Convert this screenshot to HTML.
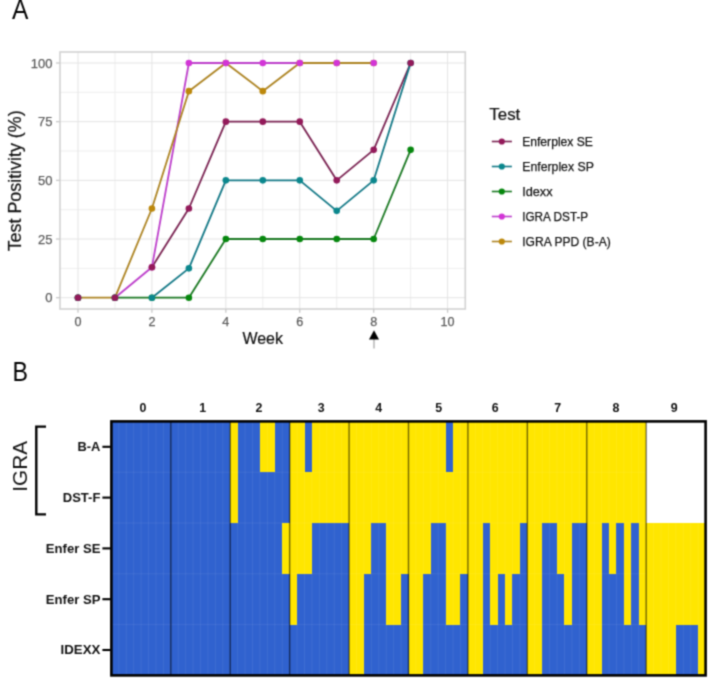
<!DOCTYPE html>
<html><head><meta charset="utf-8"><style>
html,body{margin:0;padding:0;background:#fff;}
svg{display:block;font-family:"Liberation Sans", sans-serif;will-change:transform;}
</style></head><body>
<svg width="708" height="678" viewBox="0 0 708 678">
<defs><filter id="soft" x="0" y="0" width="708" height="678" filterUnits="userSpaceOnUse" color-interpolation-filters="sRGB"><feConvolveMatrix order="3" kernelMatrix="0.04 0.12 0.04 0.12 0.36 0.12 0.04 0.12 0.04" divisor="1" edgeMode="duplicate" preserveAlpha="true"/></filter></defs>
<g filter="url(#soft)">
<rect width="708" height="678" fill="#fff"/>
<g stroke-width="1" fill="none">
<line x1="60.0" x2="465.3" y1="268.36" y2="268.36" stroke="#eeeeee"/>
<line x1="60.0" x2="465.3" y1="209.69" y2="209.69" stroke="#eeeeee"/>
<line x1="60.0" x2="465.3" y1="151.01" y2="151.01" stroke="#eeeeee"/>
<line x1="60.0" x2="465.3" y1="92.34" y2="92.34" stroke="#eeeeee"/>
<line y1="52" y2="309" x1="114.96" x2="114.96" stroke="#eeeeee"/>
<line y1="52" y2="309" x1="188.88" x2="188.88" stroke="#eeeeee"/>
<line y1="52" y2="309" x1="262.80" x2="262.80" stroke="#eeeeee"/>
<line y1="52" y2="309" x1="336.72" x2="336.72" stroke="#eeeeee"/>
<line y1="52" y2="309" x1="410.64" x2="410.64" stroke="#eeeeee"/>
<line x1="60.0" x2="465.3" y1="297.70" y2="297.70" stroke="#e4e4e4"/>
<line x1="60.0" x2="465.3" y1="239.02" y2="239.02" stroke="#e4e4e4"/>
<line x1="60.0" x2="465.3" y1="180.35" y2="180.35" stroke="#e4e4e4"/>
<line x1="60.0" x2="465.3" y1="121.67" y2="121.67" stroke="#e4e4e4"/>
<line x1="60.0" x2="465.3" y1="63.00" y2="63.00" stroke="#e4e4e4"/>
<line y1="52" y2="309" x1="78.00" x2="78.00" stroke="#e4e4e4"/>
<line y1="52" y2="309" x1="151.92" x2="151.92" stroke="#e4e4e4"/>
<line y1="52" y2="309" x1="225.84" x2="225.84" stroke="#e4e4e4"/>
<line y1="52" y2="309" x1="299.76" x2="299.76" stroke="#e4e4e4"/>
<line y1="52" y2="309" x1="373.68" x2="373.68" stroke="#e4e4e4"/>
<line y1="52" y2="309" x1="447.60" x2="447.60" stroke="#e4e4e4"/>
</g>
<rect x="60.0" y="52" width="405.30" height="257.00" fill="none" stroke="#d2d2d2" stroke-width="1.6"/>
<line x1="56" x2="60.0" y1="297.70" y2="297.70" stroke="#c9c9c9" stroke-width="1.3"/>
<line x1="56" x2="60.0" y1="239.02" y2="239.02" stroke="#c9c9c9" stroke-width="1.3"/>
<line x1="56" x2="60.0" y1="180.35" y2="180.35" stroke="#c9c9c9" stroke-width="1.3"/>
<line x1="56" x2="60.0" y1="121.67" y2="121.67" stroke="#c9c9c9" stroke-width="1.3"/>
<line x1="56" x2="60.0" y1="63.00" y2="63.00" stroke="#c9c9c9" stroke-width="1.3"/>
<line y1="309" y2="312.8" x1="78.00" x2="78.00" stroke="#c9c9c9" stroke-width="1.3"/>
<line y1="309" y2="312.8" x1="151.92" x2="151.92" stroke="#c9c9c9" stroke-width="1.3"/>
<line y1="309" y2="312.8" x1="225.84" x2="225.84" stroke="#c9c9c9" stroke-width="1.3"/>
<line y1="309" y2="312.8" x1="299.76" x2="299.76" stroke="#c9c9c9" stroke-width="1.3"/>
<line y1="309" y2="312.8" x1="373.68" x2="373.68" stroke="#c9c9c9" stroke-width="1.3"/>
<line y1="309" y2="312.8" x1="447.60" x2="447.60" stroke="#c9c9c9" stroke-width="1.3"/>
<polyline points="151.92,267.19 188.88,208.51 225.84,121.67 262.80,121.67 299.76,121.67 336.72,180.35 373.68,149.84 410.64,63.00" fill="none" stroke="#7a2352" stroke-width="1.8" stroke-linejoin="round" stroke-linecap="round"/>
<polyline points="151.92,297.70 188.88,268.36 225.84,180.35 262.80,180.35 299.76,180.35 336.72,210.86 373.68,180.35 410.64,63.00" fill="none" stroke="#137886" stroke-width="1.8" stroke-linejoin="round" stroke-linecap="round"/>
<polyline points="114.96,297.70 151.92,297.70 188.88,297.70 225.84,239.02 262.80,239.02 299.76,239.02 336.72,239.02 373.68,239.02 410.64,149.84" fill="none" stroke="#1a7822" stroke-width="1.8" stroke-linejoin="round" stroke-linecap="round"/>
<polyline points="114.96,297.70 151.92,267.19 188.88,63.00 225.84,63.00 262.80,63.00 299.76,63.00" fill="none" stroke="#bd3fcb" stroke-width="1.8" stroke-linejoin="round" stroke-linecap="round"/>
<polyline points="78.00,297.70 114.96,297.70 151.92,208.51 188.88,91.16 225.84,63.00 262.80,91.16 299.76,63.00 336.72,63.00 373.68,63.00" fill="none" stroke="#ad8423" stroke-width="1.8" stroke-linejoin="round" stroke-linecap="round"/>
<circle cx="78.00" cy="297.70" r="3.3" fill="#bc880c"/>
<circle cx="114.96" cy="297.70" r="3.3" fill="#bc880c"/>
<circle cx="151.92" cy="208.51" r="3.3" fill="#bc880c"/>
<circle cx="188.88" cy="91.16" r="3.3" fill="#bc880c"/>
<circle cx="225.84" cy="63.00" r="3.3" fill="#bc880c"/>
<circle cx="262.80" cy="91.16" r="3.3" fill="#bc880c"/>
<circle cx="299.76" cy="63.00" r="3.3" fill="#bc880c"/>
<circle cx="336.72" cy="63.00" r="3.3" fill="#bc880c"/>
<circle cx="373.68" cy="63.00" r="3.3" fill="#bc880c"/>
<circle cx="78.00" cy="297.70" r="3.3" fill="#d235d6"/>
<circle cx="114.96" cy="297.70" r="3.3" fill="#d235d6"/>
<circle cx="151.92" cy="267.19" r="3.3" fill="#d235d6"/>
<circle cx="188.88" cy="63.00" r="3.3" fill="#d235d6"/>
<circle cx="225.84" cy="63.00" r="3.3" fill="#d235d6"/>
<circle cx="262.80" cy="63.00" r="3.3" fill="#d235d6"/>
<circle cx="299.76" cy="63.00" r="3.3" fill="#d235d6"/>
<circle cx="336.72" cy="63.00" r="3.3" fill="#d235d6"/>
<circle cx="373.68" cy="63.00" r="3.3" fill="#d235d6"/>
<circle cx="78.00" cy="297.70" r="3.3" fill="#06870e"/>
<circle cx="114.96" cy="297.70" r="3.3" fill="#06870e"/>
<circle cx="151.92" cy="297.70" r="3.3" fill="#06870e"/>
<circle cx="188.88" cy="297.70" r="3.3" fill="#06870e"/>
<circle cx="225.84" cy="239.02" r="3.3" fill="#06870e"/>
<circle cx="262.80" cy="239.02" r="3.3" fill="#06870e"/>
<circle cx="299.76" cy="239.02" r="3.3" fill="#06870e"/>
<circle cx="336.72" cy="239.02" r="3.3" fill="#06870e"/>
<circle cx="373.68" cy="239.02" r="3.3" fill="#06870e"/>
<circle cx="410.64" cy="149.84" r="3.3" fill="#06870e"/>
<circle cx="78.00" cy="297.70" r="3.3" fill="#0b878d"/>
<circle cx="114.96" cy="297.70" r="3.3" fill="#0b878d"/>
<circle cx="151.92" cy="297.70" r="3.3" fill="#0b878d"/>
<circle cx="188.88" cy="268.36" r="3.3" fill="#0b878d"/>
<circle cx="225.84" cy="180.35" r="3.3" fill="#0b878d"/>
<circle cx="262.80" cy="180.35" r="3.3" fill="#0b878d"/>
<circle cx="299.76" cy="180.35" r="3.3" fill="#0b878d"/>
<circle cx="336.72" cy="210.86" r="3.3" fill="#0b878d"/>
<circle cx="373.68" cy="180.35" r="3.3" fill="#0b878d"/>
<circle cx="410.64" cy="63.00" r="3.3" fill="#0b878d"/>
<circle cx="78.00" cy="297.70" r="3.3" fill="#931a5a"/>
<circle cx="114.96" cy="297.70" r="3.3" fill="#931a5a"/>
<circle cx="151.92" cy="267.19" r="3.3" fill="#931a5a"/>
<circle cx="188.88" cy="208.51" r="3.3" fill="#931a5a"/>
<circle cx="225.84" cy="121.67" r="3.3" fill="#931a5a"/>
<circle cx="262.80" cy="121.67" r="3.3" fill="#931a5a"/>
<circle cx="299.76" cy="121.67" r="3.3" fill="#931a5a"/>
<circle cx="336.72" cy="180.35" r="3.3" fill="#931a5a"/>
<circle cx="373.68" cy="149.84" r="3.3" fill="#931a5a"/>
<circle cx="410.64" cy="63.00" r="3.3" fill="#931a5a"/>
<text x="52.4" y="302.40" text-anchor="end" font-size="13" fill="#5c5c5c" stroke="#5c5c5c" stroke-width="0.25">0</text>
<text x="52.4" y="243.72" text-anchor="end" font-size="13" fill="#5c5c5c" stroke="#5c5c5c" stroke-width="0.25">25</text>
<text x="52.4" y="185.05" text-anchor="end" font-size="13" fill="#5c5c5c" stroke="#5c5c5c" stroke-width="0.25">50</text>
<text x="52.4" y="126.37" text-anchor="end" font-size="13" fill="#5c5c5c" stroke="#5c5c5c" stroke-width="0.25">75</text>
<text x="52.4" y="67.70" text-anchor="end" font-size="13" fill="#5c5c5c" stroke="#5c5c5c" stroke-width="0.25">100</text>
<text x="78.00" y="326" text-anchor="middle" font-size="12.6" fill="#5c5c5c" stroke="#5c5c5c" stroke-width="0.25">0</text>
<text x="151.92" y="326" text-anchor="middle" font-size="12.6" fill="#5c5c5c" stroke="#5c5c5c" stroke-width="0.25">2</text>
<text x="225.84" y="326" text-anchor="middle" font-size="12.6" fill="#5c5c5c" stroke="#5c5c5c" stroke-width="0.25">4</text>
<text x="299.76" y="326" text-anchor="middle" font-size="12.6" fill="#5c5c5c" stroke="#5c5c5c" stroke-width="0.25">6</text>
<text x="373.68" y="326" text-anchor="middle" font-size="12.6" fill="#5c5c5c" stroke="#5c5c5c" stroke-width="0.25">8</text>
<text x="447.60" y="326" text-anchor="middle" font-size="12.6" fill="#5c5c5c" stroke="#5c5c5c" stroke-width="0.25">10</text>
<text x="262.7" y="344.1" text-anchor="middle" font-size="16" fill="#111" stroke="#111" stroke-width="0.2">Week</text>
<text transform="translate(20.8,180.85) rotate(-90)" text-anchor="middle" font-size="17.7" textLength="141" lengthAdjust="spacingAndGlyphs" fill="#111" stroke="#111" stroke-width="0.2">Test Positivity (%)</text>
<line x1="374" x2="374" y1="339" y2="348.5" stroke="#b0b0b0" stroke-width="1.4"/>
<polygon points="374,330.2 369,339.5 379,339.5" fill="#000"/>
<text x="489.3" y="119.6" font-size="15.8" textLength="31" lengthAdjust="spacingAndGlyphs" fill="#111" stroke="#111" stroke-width="0.2">Test</text>
<line x1="491.8" x2="511.9" y1="141.50" y2="141.50" stroke="#7a2352" stroke-width="1.6"/>
<circle cx="501.8" cy="141.50" r="3.1" fill="#931a5a"/>
<text x="522.2" y="145.50" font-size="13.2" textLength="70.7" lengthAdjust="spacingAndGlyphs" fill="#111" stroke="#111" stroke-width="0.25">Enferplex SE</text>
<line x1="491.8" x2="511.9" y1="166.50" y2="166.50" stroke="#137886" stroke-width="1.6"/>
<circle cx="501.8" cy="166.50" r="3.1" fill="#0b878d"/>
<text x="522.2" y="170.50" font-size="13.2" textLength="71.7" lengthAdjust="spacingAndGlyphs" fill="#111" stroke="#111" stroke-width="0.25">Enferplex SP</text>
<line x1="491.8" x2="511.9" y1="191.50" y2="191.50" stroke="#1a7822" stroke-width="1.6"/>
<circle cx="501.8" cy="191.50" r="3.1" fill="#06870e"/>
<text x="522.2" y="195.50" font-size="13.2" textLength="30.4" lengthAdjust="spacingAndGlyphs" fill="#111" stroke="#111" stroke-width="0.25">Idexx</text>
<line x1="491.8" x2="511.9" y1="216.50" y2="216.50" stroke="#bd3fcb" stroke-width="1.6"/>
<circle cx="501.8" cy="216.50" r="3.1" fill="#d235d6"/>
<text x="522.2" y="220.50" font-size="13.2" textLength="66.0" lengthAdjust="spacingAndGlyphs" fill="#111" stroke="#111" stroke-width="0.25">IGRA DST-P</text>
<line x1="491.8" x2="511.9" y1="241.50" y2="241.50" stroke="#ad8423" stroke-width="1.6"/>
<circle cx="501.8" cy="241.50" r="3.1" fill="#bc880c"/>
<text x="522.2" y="245.50" font-size="13.2" textLength="88.6" lengthAdjust="spacingAndGlyphs" fill="#111" stroke="#111" stroke-width="0.25">IGRA PPD (B-A)</text>
<text transform="translate(12.1,18.6) scale(0.9,1)" font-size="27.3" fill="#000">A</text>
<text transform="translate(12.4,380.6) scale(0.85,1)" font-size="27.3" fill="#000">B</text>
<g shape-rendering="crispEdges">
<rect x="111.40" y="421.40" width="59.42" height="50.80" fill="#3062cf"/>
<rect x="111.40" y="472.20" width="59.42" height="50.80" fill="#3062cf"/>
<rect x="111.40" y="523.00" width="59.42" height="50.80" fill="#3062cf"/>
<rect x="111.40" y="573.80" width="59.42" height="50.80" fill="#3062cf"/>
<rect x="111.40" y="624.60" width="59.42" height="50.80" fill="#3062cf"/>
<rect x="170.82" y="421.40" width="59.42" height="50.80" fill="#3062cf"/>
<rect x="170.82" y="472.20" width="59.42" height="50.80" fill="#3062cf"/>
<rect x="170.82" y="523.00" width="59.42" height="50.80" fill="#3062cf"/>
<rect x="170.82" y="573.80" width="59.42" height="50.80" fill="#3062cf"/>
<rect x="170.82" y="624.60" width="59.42" height="50.80" fill="#3062cf"/>
<rect x="230.24" y="421.40" width="7.43" height="50.80" fill="#ffe600"/>
<rect x="237.67" y="421.40" width="22.28" height="50.80" fill="#3062cf"/>
<rect x="259.95" y="421.40" width="14.85" height="50.80" fill="#ffe600"/>
<rect x="274.81" y="421.40" width="14.85" height="50.80" fill="#3062cf"/>
<rect x="230.24" y="472.20" width="7.43" height="50.80" fill="#ffe600"/>
<rect x="237.67" y="472.20" width="51.99" height="50.80" fill="#3062cf"/>
<rect x="230.24" y="523.00" width="51.99" height="50.80" fill="#3062cf"/>
<rect x="282.23" y="523.00" width="7.43" height="50.80" fill="#ffe600"/>
<rect x="230.24" y="573.80" width="59.42" height="50.80" fill="#3062cf"/>
<rect x="230.24" y="624.60" width="59.42" height="50.80" fill="#3062cf"/>
<rect x="289.66" y="421.40" width="14.86" height="50.80" fill="#ffe600"/>
<rect x="304.51" y="421.40" width="7.43" height="50.80" fill="#3062cf"/>
<rect x="311.94" y="421.40" width="37.14" height="50.80" fill="#ffe600"/>
<rect x="289.66" y="472.20" width="59.42" height="50.80" fill="#ffe600"/>
<rect x="289.66" y="523.00" width="22.28" height="50.80" fill="#ffe600"/>
<rect x="311.94" y="523.00" width="37.14" height="50.80" fill="#3062cf"/>
<rect x="289.66" y="573.80" width="7.43" height="50.80" fill="#ffe600"/>
<rect x="297.09" y="573.80" width="51.99" height="50.80" fill="#3062cf"/>
<rect x="289.66" y="624.60" width="59.42" height="50.80" fill="#3062cf"/>
<rect x="349.08" y="421.40" width="59.42" height="50.80" fill="#ffe600"/>
<rect x="349.08" y="472.20" width="59.42" height="50.80" fill="#ffe600"/>
<rect x="349.08" y="523.00" width="22.28" height="50.80" fill="#ffe600"/>
<rect x="371.36" y="523.00" width="14.85" height="50.80" fill="#3062cf"/>
<rect x="386.22" y="523.00" width="22.28" height="50.80" fill="#ffe600"/>
<rect x="349.08" y="573.80" width="14.85" height="50.80" fill="#ffe600"/>
<rect x="363.94" y="573.80" width="22.28" height="50.80" fill="#3062cf"/>
<rect x="386.22" y="573.80" width="14.86" height="50.80" fill="#ffe600"/>
<rect x="401.07" y="573.80" width="7.43" height="50.80" fill="#3062cf"/>
<rect x="349.08" y="624.60" width="14.85" height="50.80" fill="#ffe600"/>
<rect x="363.94" y="624.60" width="44.56" height="50.80" fill="#3062cf"/>
<rect x="408.50" y="421.40" width="37.14" height="50.80" fill="#ffe600"/>
<rect x="445.64" y="421.40" width="7.43" height="50.80" fill="#3062cf"/>
<rect x="453.07" y="421.40" width="14.85" height="50.80" fill="#ffe600"/>
<rect x="408.50" y="472.20" width="59.42" height="50.80" fill="#ffe600"/>
<rect x="408.50" y="523.00" width="22.28" height="50.80" fill="#ffe600"/>
<rect x="430.78" y="523.00" width="14.86" height="50.80" fill="#3062cf"/>
<rect x="445.64" y="523.00" width="22.28" height="50.80" fill="#ffe600"/>
<rect x="408.50" y="573.80" width="14.86" height="50.80" fill="#ffe600"/>
<rect x="423.36" y="573.80" width="22.28" height="50.80" fill="#3062cf"/>
<rect x="445.64" y="573.80" width="14.86" height="50.80" fill="#ffe600"/>
<rect x="460.49" y="573.80" width="7.43" height="50.80" fill="#3062cf"/>
<rect x="408.50" y="624.60" width="14.86" height="50.80" fill="#ffe600"/>
<rect x="423.36" y="624.60" width="44.56" height="50.80" fill="#3062cf"/>
<rect x="467.92" y="421.40" width="59.42" height="50.80" fill="#ffe600"/>
<rect x="467.92" y="472.20" width="59.42" height="50.80" fill="#ffe600"/>
<rect x="467.92" y="523.00" width="14.86" height="50.80" fill="#ffe600"/>
<rect x="482.77" y="523.00" width="7.43" height="50.80" fill="#3062cf"/>
<rect x="490.20" y="523.00" width="29.71" height="50.80" fill="#ffe600"/>
<rect x="519.91" y="523.00" width="7.43" height="50.80" fill="#3062cf"/>
<rect x="467.92" y="573.80" width="14.86" height="50.80" fill="#ffe600"/>
<rect x="482.77" y="573.80" width="7.43" height="50.80" fill="#3062cf"/>
<rect x="490.20" y="573.80" width="7.43" height="50.80" fill="#ffe600"/>
<rect x="497.63" y="573.80" width="7.43" height="50.80" fill="#3062cf"/>
<rect x="505.06" y="573.80" width="7.43" height="50.80" fill="#ffe600"/>
<rect x="512.49" y="573.80" width="14.86" height="50.80" fill="#3062cf"/>
<rect x="467.92" y="624.60" width="14.86" height="50.80" fill="#ffe600"/>
<rect x="482.77" y="624.60" width="44.57" height="50.80" fill="#3062cf"/>
<rect x="527.34" y="421.40" width="59.42" height="50.80" fill="#ffe600"/>
<rect x="527.34" y="472.20" width="59.42" height="50.80" fill="#ffe600"/>
<rect x="527.34" y="523.00" width="14.86" height="50.80" fill="#ffe600"/>
<rect x="542.20" y="523.00" width="14.86" height="50.80" fill="#3062cf"/>
<rect x="557.05" y="523.00" width="14.85" height="50.80" fill="#ffe600"/>
<rect x="571.90" y="523.00" width="14.86" height="50.80" fill="#3062cf"/>
<rect x="527.34" y="573.80" width="14.86" height="50.80" fill="#ffe600"/>
<rect x="542.20" y="573.80" width="22.28" height="50.80" fill="#3062cf"/>
<rect x="564.48" y="573.80" width="7.43" height="50.80" fill="#ffe600"/>
<rect x="571.90" y="573.80" width="14.86" height="50.80" fill="#3062cf"/>
<rect x="527.34" y="624.60" width="14.86" height="50.80" fill="#ffe600"/>
<rect x="542.20" y="624.60" width="44.56" height="50.80" fill="#3062cf"/>
<rect x="586.76" y="421.40" width="59.42" height="50.80" fill="#ffe600"/>
<rect x="586.76" y="472.20" width="59.42" height="50.80" fill="#ffe600"/>
<rect x="586.76" y="523.00" width="14.86" height="50.80" fill="#ffe600"/>
<rect x="601.62" y="523.00" width="7.43" height="50.80" fill="#3062cf"/>
<rect x="609.04" y="523.00" width="7.43" height="50.80" fill="#ffe600"/>
<rect x="616.47" y="523.00" width="7.43" height="50.80" fill="#3062cf"/>
<rect x="623.90" y="523.00" width="7.43" height="50.80" fill="#ffe600"/>
<rect x="631.33" y="523.00" width="7.43" height="50.80" fill="#3062cf"/>
<rect x="638.75" y="523.00" width="7.43" height="50.80" fill="#ffe600"/>
<rect x="586.76" y="573.80" width="14.86" height="50.80" fill="#ffe600"/>
<rect x="601.62" y="573.80" width="22.28" height="50.80" fill="#3062cf"/>
<rect x="623.90" y="573.80" width="7.43" height="50.80" fill="#ffe600"/>
<rect x="631.33" y="573.80" width="7.43" height="50.80" fill="#3062cf"/>
<rect x="638.75" y="573.80" width="7.43" height="50.80" fill="#ffe600"/>
<rect x="586.76" y="624.60" width="14.86" height="50.80" fill="#ffe600"/>
<rect x="601.62" y="624.60" width="44.56" height="50.80" fill="#3062cf"/>
<rect x="646.18" y="523.00" width="59.42" height="50.80" fill="#ffe600"/>
<rect x="646.18" y="573.80" width="59.42" height="50.80" fill="#ffe600"/>
<rect x="646.18" y="624.60" width="29.71" height="50.80" fill="#ffe600"/>
<rect x="675.89" y="624.60" width="22.28" height="50.80" fill="#3062cf"/>
<rect x="698.17" y="624.60" width="7.43" height="50.80" fill="#ffe600"/>
</g>
<g stroke="#ffffff" stroke-opacity="0.07" stroke-width="1">
<line x1="118.83" x2="118.83" y1="421.4" y2="675.4"/>
<line x1="126.26" x2="126.26" y1="421.4" y2="675.4"/>
<line x1="133.68" x2="133.68" y1="421.4" y2="675.4"/>
<line x1="141.11" x2="141.11" y1="421.4" y2="675.4"/>
<line x1="148.54" x2="148.54" y1="421.4" y2="675.4"/>
<line x1="155.97" x2="155.97" y1="421.4" y2="675.4"/>
<line x1="163.39" x2="163.39" y1="421.4" y2="675.4"/>
<line x1="178.25" x2="178.25" y1="421.4" y2="675.4"/>
<line x1="185.68" x2="185.68" y1="421.4" y2="675.4"/>
<line x1="193.10" x2="193.10" y1="421.4" y2="675.4"/>
<line x1="200.53" x2="200.53" y1="421.4" y2="675.4"/>
<line x1="207.96" x2="207.96" y1="421.4" y2="675.4"/>
<line x1="215.38" x2="215.38" y1="421.4" y2="675.4"/>
<line x1="222.81" x2="222.81" y1="421.4" y2="675.4"/>
<line x1="237.67" x2="237.67" y1="421.4" y2="675.4"/>
<line x1="245.09" x2="245.09" y1="421.4" y2="675.4"/>
<line x1="252.52" x2="252.52" y1="421.4" y2="675.4"/>
<line x1="259.95" x2="259.95" y1="421.4" y2="675.4"/>
<line x1="267.38" x2="267.38" y1="421.4" y2="675.4"/>
<line x1="274.81" x2="274.81" y1="421.4" y2="675.4"/>
<line x1="282.23" x2="282.23" y1="421.4" y2="675.4"/>
<line x1="297.09" x2="297.09" y1="421.4" y2="675.4"/>
<line x1="304.51" x2="304.51" y1="421.4" y2="675.4"/>
<line x1="311.94" x2="311.94" y1="421.4" y2="675.4"/>
<line x1="319.37" x2="319.37" y1="421.4" y2="675.4"/>
<line x1="326.80" x2="326.80" y1="421.4" y2="675.4"/>
<line x1="334.23" x2="334.23" y1="421.4" y2="675.4"/>
<line x1="341.65" x2="341.65" y1="421.4" y2="675.4"/>
<line x1="356.51" x2="356.51" y1="421.4" y2="675.4"/>
<line x1="363.94" x2="363.94" y1="421.4" y2="675.4"/>
<line x1="371.36" x2="371.36" y1="421.4" y2="675.4"/>
<line x1="378.79" x2="378.79" y1="421.4" y2="675.4"/>
<line x1="386.22" x2="386.22" y1="421.4" y2="675.4"/>
<line x1="393.64" x2="393.64" y1="421.4" y2="675.4"/>
<line x1="401.07" x2="401.07" y1="421.4" y2="675.4"/>
<line x1="415.93" x2="415.93" y1="421.4" y2="675.4"/>
<line x1="423.36" x2="423.36" y1="421.4" y2="675.4"/>
<line x1="430.78" x2="430.78" y1="421.4" y2="675.4"/>
<line x1="438.21" x2="438.21" y1="421.4" y2="675.4"/>
<line x1="445.64" x2="445.64" y1="421.4" y2="675.4"/>
<line x1="453.07" x2="453.07" y1="421.4" y2="675.4"/>
<line x1="460.49" x2="460.49" y1="421.4" y2="675.4"/>
<line x1="475.35" x2="475.35" y1="421.4" y2="675.4"/>
<line x1="482.77" x2="482.77" y1="421.4" y2="675.4"/>
<line x1="490.20" x2="490.20" y1="421.4" y2="675.4"/>
<line x1="497.63" x2="497.63" y1="421.4" y2="675.4"/>
<line x1="505.06" x2="505.06" y1="421.4" y2="675.4"/>
<line x1="512.49" x2="512.49" y1="421.4" y2="675.4"/>
<line x1="519.91" x2="519.91" y1="421.4" y2="675.4"/>
<line x1="534.77" x2="534.77" y1="421.4" y2="675.4"/>
<line x1="542.20" x2="542.20" y1="421.4" y2="675.4"/>
<line x1="549.62" x2="549.62" y1="421.4" y2="675.4"/>
<line x1="557.05" x2="557.05" y1="421.4" y2="675.4"/>
<line x1="564.48" x2="564.48" y1="421.4" y2="675.4"/>
<line x1="571.90" x2="571.90" y1="421.4" y2="675.4"/>
<line x1="579.33" x2="579.33" y1="421.4" y2="675.4"/>
<line x1="594.19" x2="594.19" y1="421.4" y2="675.4"/>
<line x1="601.62" x2="601.62" y1="421.4" y2="675.4"/>
<line x1="609.04" x2="609.04" y1="421.4" y2="675.4"/>
<line x1="616.47" x2="616.47" y1="421.4" y2="675.4"/>
<line x1="623.90" x2="623.90" y1="421.4" y2="675.4"/>
<line x1="631.33" x2="631.33" y1="421.4" y2="675.4"/>
<line x1="638.75" x2="638.75" y1="421.4" y2="675.4"/>
<line x1="653.61" x2="653.61" y1="421.4" y2="675.4"/>
<line x1="661.03" x2="661.03" y1="421.4" y2="675.4"/>
<line x1="668.46" x2="668.46" y1="421.4" y2="675.4"/>
<line x1="675.89" x2="675.89" y1="421.4" y2="675.4"/>
<line x1="683.32" x2="683.32" y1="421.4" y2="675.4"/>
<line x1="690.75" x2="690.75" y1="421.4" y2="675.4"/>
<line x1="698.17" x2="698.17" y1="421.4" y2="675.4"/>
<line x1="111.4" x2="646.18" y1="472.20" y2="472.20"/>
<line x1="111.4" x2="646.18" y1="523.00" y2="523.00"/>
<line x1="111.4" x2="646.18" y1="573.80" y2="573.80"/>
<line x1="111.4" x2="646.18" y1="624.60" y2="624.60"/>
</g>
<line x1="170.82" x2="170.82" y1="421.4" y2="675.4" stroke="#000" stroke-opacity="0.55" stroke-width="1.4"/>
<line x1="230.24" x2="230.24" y1="421.4" y2="675.4" stroke="#000" stroke-opacity="0.55" stroke-width="1.4"/>
<line x1="289.66" x2="289.66" y1="421.4" y2="675.4" stroke="#000" stroke-opacity="0.55" stroke-width="1.4"/>
<line x1="349.08" x2="349.08" y1="421.4" y2="675.4" stroke="#000" stroke-opacity="0.55" stroke-width="1.4"/>
<line x1="408.50" x2="408.50" y1="421.4" y2="675.4" stroke="#000" stroke-opacity="0.55" stroke-width="1.4"/>
<line x1="467.92" x2="467.92" y1="421.4" y2="675.4" stroke="#000" stroke-opacity="0.55" stroke-width="1.4"/>
<line x1="527.34" x2="527.34" y1="421.4" y2="675.4" stroke="#000" stroke-opacity="0.55" stroke-width="1.4"/>
<line x1="586.76" x2="586.76" y1="421.4" y2="675.4" stroke="#000" stroke-opacity="0.55" stroke-width="1.4"/>
<line x1="646.18" x2="646.18" y1="421.4" y2="675.4" stroke="#000" stroke-opacity="0.55" stroke-width="1.4"/>
<rect x="111.40" y="421.40" width="594.20" height="254.00" fill="none" stroke="#000" stroke-width="2.6"/>
<text x="139.56" y="411.9" font-size="12.4" font-weight="bold" fill="#111">0</text>
<text x="199.23" y="411.9" font-size="12.4" font-weight="bold" fill="#111">1</text>
<text x="255.39" y="411.9" font-size="12.4" font-weight="bold" fill="#111">2</text>
<text x="317.83" y="411.9" font-size="12.4" font-weight="bold" fill="#111">3</text>
<text x="375.19" y="411.9" font-size="12.4" font-weight="bold" fill="#111">4</text>
<text x="435.23" y="411.9" font-size="12.4" font-weight="bold" fill="#111">5</text>
<text x="491.65" y="411.9" font-size="12.4" font-weight="bold" fill="#111">6</text>
<text x="554.36" y="411.9" font-size="12.4" font-weight="bold" fill="#111">7</text>
<text x="612.55" y="411.9" font-size="12.4" font-weight="bold" fill="#111">8</text>
<text x="670.87" y="411.9" font-size="12.4" font-weight="bold" fill="#111">9</text>
<line x1="102.4" x2="110.5" y1="446.80" y2="446.80" stroke="#000" stroke-width="2.1"/>
<text x="77.50" y="451.10" font-size="12.6" font-weight="bold" textLength="22.90" lengthAdjust="spacingAndGlyphs" fill="#111">B-A</text>
<line x1="102.4" x2="110.5" y1="497.60" y2="497.60" stroke="#000" stroke-width="2.1"/>
<text x="62.80" y="501.90" font-size="12.6" font-weight="bold" textLength="37.60" lengthAdjust="spacingAndGlyphs" fill="#111">DST-F</text>
<line x1="102.4" x2="110.5" y1="548.40" y2="548.40" stroke="#000" stroke-width="2.1"/>
<text x="45.80" y="552.70" font-size="12.6" font-weight="bold" textLength="54.60" lengthAdjust="spacingAndGlyphs" fill="#111">Enfer SE</text>
<line x1="102.4" x2="110.5" y1="599.20" y2="599.20" stroke="#000" stroke-width="2.1"/>
<text x="45.80" y="603.50" font-size="12.6" font-weight="bold" textLength="54.60" lengthAdjust="spacingAndGlyphs" fill="#111">Enfer SP</text>
<line x1="102.4" x2="110.5" y1="650.00" y2="650.00" stroke="#000" stroke-width="2.1"/>
<text x="60.60" y="654.30" font-size="12.6" font-weight="bold" textLength="39.80" lengthAdjust="spacingAndGlyphs" fill="#111">IDEXX</text>
<text transform="translate(26.9,466.4) rotate(-90)" text-anchor="middle" font-size="20.8" fill="#111">IGRA</text>
<polyline points="46,426.6 36.3,426.6 36.3,514.4 46,514.4" fill="none" stroke="#000" stroke-width="2.4"/>
</g>
</svg>
</body></html>
